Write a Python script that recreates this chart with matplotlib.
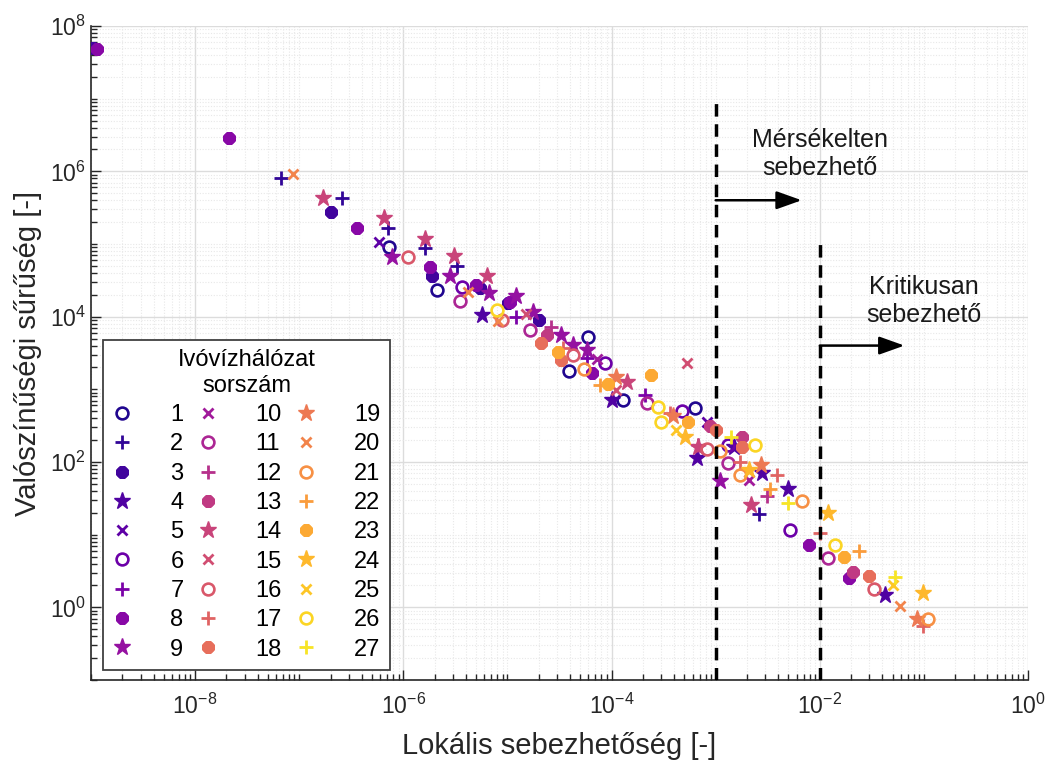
import matplotlib
matplotlib.use("Agg")
import matplotlib.pyplot as plt
import numpy as np
from matplotlib.ticker import FixedLocator, NullFormatter

# ---- data: local vulnerability (x) and probability density (y) per network ----
network_labels = ["1", "2", "3", "4", "5", "6", "7", "8", "9",
                  "10", "11", "12", "13", "14", "15", "16", "17", "18",
                  "19", "20", "21", "22", "23", "24", "25", "26", "27"]

vulnerability = [
    [7.3e-7, 2.1e-6, 6.0e-5, 3.9e-5, 1.3e-4, 6.3e-4],                       # 1
    [6.7e-8, 2.6e-7, 7.2e-7, 1.6e-6, 3.3e-6, 2.6e-3],                       # 2
    [1.04e-9, 2.0e-7, 1.9e-6, 5.5e-6, 2.0e-5, 1.01e-5],                     # 3
    [5.7e-6, 1.0e-4, 6.6e-4, 1.5e-3, 2.8e-3, 4.9e-3, 4.2e-2],               # 4
    [5.8e-7, 8.2e-4],                                                       # 5
    [3.7e-6, 8.7e-5, 4.7e-4, 1.3e-3, 5.2e-3],                               # 6
    [1.2e-5, 5.8e-5, 2.1e-4],                                               # 7
    [1.14e-9, 2.1e-8, 3.6e-7, 1.8e-6, 5.0e-6, 1.06e-5, 6.5e-5, 7.8e-3, 1.9e-2],  # 8
    [7.7e-7, 2.8e-6, 6.6e-6, 1.2e-5, 3.3e-5, 4.3e-5, 1.1e-3, 1.77e-5, 5.8e-5],   # 9
    [7.2e-5, 2.1e-3],                                                       # 10
    [3.5e-6, 1.65e-5, 2.2e-4, 1.3e-3, 1.2e-2],                              # 11
    [2.6e-5, 6.8e-4, 3.1e-3],                                               # 12
    [2.4e-5, 8.8e-4, 2.1e-2, 1.78e-3],                                      # 13
    [1.7e-7, 6.5e-7, 1.6e-6, 3.1e-6, 6.3e-6, 2.2e-3, 1.41e-4, 6.8e-4],      # 14
    [1.5e-5, 1.1e-4, 5.3e-4],                                               # 15
    [1.1e-6, 8.8e-6, 4.3e-5, 8.2e-4, 3.3e-2],                               # 16
    [3.4e-5, 1.7e-3, 3.9e-3, 1.0e-2, 9.9e-2, 3.65e-4],                      # 17
    [2.1e-5, 1.0e-3, 1.8e-3, 3.0e-2, 3.3e-5],                               # 18
    [1.1e-4, 2.7e-3, 8.6e-2, 3.9e-4],                                       # 19
    [8.7e-8, 4.2e-6, 8.2e-6, 5.9e-2],                                       # 20
    [5.4e-5, 1.1e-3, 1.7e-3, 6.7e-3, 0.11],                                 # 21
    [7.8e-5, 3.3e-3, 2.4e-2],                                               # 22
    [9.3e-5, 2.4e-4, 5.4e-4, 1.7e-2, 3.08e-5],                              # 23
    [5.1e-4, 2.1e-3, 1.2e-2, 9.8e-2],                                       # 24
    [4.2e-4, 5.0e-2],                                                       # 25
    [7.9e-6, 3.0e-4, 2.4e-3, 1.4e-2, 2.8e-4],                               # 26
    [1.4e-3, 4.9e-3, 5.3e-2],                                               # 27
]

density = [
    [9.0e4, 2.3e4, 5.3e3, 1.8e3, 7.2e2, 5.6e2],                             # 1
    [8.0e5, 4.3e5, 1.65e5, 8.8e4, 5.0e4, 19],                               # 2
    [5.0e7, 2.8e5, 3.6e4, 2.5e4, 9.0e3, 1.55e4],                            # 3
    [1.06e4, 7.2e2, 1.14e2, 1.6e2, 70, 42, 1.5],                            # 4
    [1.05e5, 3.5e2],                                                        # 5
    [2.6e4, 2.3e3, 5.0e2, 1.7e2, 11.7],                                     # 6
    [1.0e4, 2.7e3, 8.4e2],                                                  # 7
    [4.8e7, 2.9e6, 1.65e5, 4.8e4, 2.7e4, 1.6e4, 1.7e3, 7.3, 2.5],           # 8
    [6.6e4, 3.6e4, 2.1e4, 1.9e4, 5.6e3, 4.1e3, 54, 1.17e4, 3.5e3],          # 9
    [2.6e3, 57],                                                            # 10
    [1.66e4, 6.6e3, 6.5e2, 98, 4.8],                                        # 11
    [7.3e3, 1.7e2, 34],                                                     # 12
    [5.6e3, 3.1e2, 3.1, 2.24e2],                                            # 13
    [4.35e5, 2.3e5, 1.17e5, 6.9e4, 3.6e4, 26, 1.27e3, 1.63e2],              # 14
    [1.1e4, 9.9e2, 2.3e3],                                                  # 15
    [6.6e4, 9.0e3, 3.0e3, 1.5e2, 1.8],                                      # 16
    [3.7e3, 1.0e2, 67, 10.7, 0.56, 4.75e2],                                 # 17
    [4.3e3, 2.8e2, 1.6e2, 2.7, 2.5e3],                                      # 18
    [1.5e3, 92, 0.69, 4.3e2],                                               # 19
    [9.1e5, 2.2e4, 8.6e3, 1.05],                                            # 20
    [1.9e3, 1.4e2, 67, 29, 0.69],                                           # 21
    [1.15e3, 42, 5.9],                                                      # 22
    [1.2e3, 1.6e3, 3.6e2, 5.0, 3.3e3],                                      # 23
    [2.2e2, 78, 20, 1.6],                                                   # 24
    [2.8e2, 2.05],                                                          # 25
    [1.24e4, 3.6e2, 1.7e2, 7.3, 5.8e2],                                     # 26
    [2.2e2, 27, 2.6],                                                       # 27
]

x_tick_values = [1e-8, 1e-6, 1e-4, 1e-2, 1e0]
x_tick_labels = [r"$10^{-8}$", r"$10^{-6}$", r"$10^{-4}$", r"$10^{-2}$", r"$10^{0}$"]
y_tick_values = [1e0, 1e2, 1e4, 1e6, 1e8]
y_tick_labels = [r"$10^{0}$", r"$10^{2}$", r"$10^{4}$", r"$10^{6}$", r"$10^{8}$"]

# vulnerability thresholds
moderate_limit = 1e-3
critical_limit = 1e-2

# ---- styling ----
plt.rcParams["font.family"] = ["Liberation Sans", "DejaVu Sans"]
plt.rcParams["mathtext.fontset"] = "custom"
plt.rcParams["mathtext.rm"] = "Liberation Sans"
plt.rcParams["mathtext.it"] = "Liberation Sans"
plt.rcParams["mathtext.default"] = "regular"

colors = plt.cm.plasma(np.linspace(0.03, 0.95, len(network_labels)))
marker_cycle = ["o", "+", (8, 2, 0), "*", "x"]

fig = plt.figure(figsize=(10.51, 7.67), dpi=100)
ax = fig.add_axes([91 / 1051, 1 - 680 / 767, (1028 - 91) / 1051, (680 - 26) / 767])
ax.set_xscale("log")
ax.set_yscale("log")
ax.set_xlim(1e-9, 1e0)
ax.set_ylim(1e-1, 1e8)

handles = []
for i, (xs, ys) in enumerate(zip(vulnerability, density)):
    m = marker_cycle[i % len(marker_cycle)]
    c = colors[i]
    if m == "o":
        kw = dict(marker="o", ms=8.5, mfc="none", mec=c, mew=1.9)
    elif m == "*":
        kw = dict(marker="*", ms=12.5, mfc=c, mec=c, mew=1.0)
    elif m == "+":
        kw = dict(marker="+", ms=9.5, mec=c, mew=2.0)
    elif m == "x":
        kw = dict(marker="x", ms=7.0, mec=c, mew=2.0)
    else:
        kw = dict(marker=m, ms=9.0, mfc=c, mec=c, mew=3.4)
    h, = ax.plot(xs, ys, linestyle="none", label=network_labels[i], zorder=3, **kw)
    handles.append(h)

# thresholds with arrows
ax.plot([moderate_limit, moderate_limit], [1e-1, 1e7], color="black",
        lw=2.5, dashes=(3.6, 2.2), zorder=4)
ax.plot([critical_limit, critical_limit], [1e-1, 1e5], color="black",
        lw=2.5, dashes=(3.6, 2.2), zorder=4)
ax.annotate("", xy=(6.7e-3, 4.0e5), xytext=(moderate_limit, 4.0e5),
            arrowprops=dict(arrowstyle="-|>,head_length=0.7,head_width=0.25",
                            color="black", lw=1.8, mutation_scale=22,
                            shrinkA=0, shrinkB=0), zorder=5)
ax.annotate("", xy=(6.5e-2, 4.0e3), xytext=(critical_limit, 4.0e3),
            arrowprops=dict(arrowstyle="-|>,head_length=0.7,head_width=0.25",
                            color="black", lw=1.8, mutation_scale=22,
                            shrinkA=0, shrinkB=0), zorder=5)
ax.text(1.0e-2, 1.74e6, "Mérsékelten\nsebezhető", ha="center", va="center",
        fontsize=18, linespacing=1.2, multialignment="center", color="#1a1a1a")
ax.text(1.0e-1, 1.65e4, "Kritikusan\nsebezhető", ha="center", va="center",
        fontsize=18, linespacing=1.2, multialignment="center", color="#1a1a1a")

# axes, ticks and grid
ax.xaxis.set_major_locator(FixedLocator(x_tick_values))
ax.xaxis.set_ticklabels(x_tick_labels)
ax.yaxis.set_major_locator(FixedLocator(y_tick_values))
ax.yaxis.set_ticklabels(y_tick_labels)
x_minor = [m * 10.0 ** e for e in range(-9, 0) for m in range(1, 10)]
y_minor = [m * 10.0 ** e for e in range(-1, 8) for m in range(1, 10)]
ax.xaxis.set_minor_locator(FixedLocator(x_minor))
ax.yaxis.set_minor_locator(FixedLocator(y_minor))
ax.xaxis.set_minor_formatter(NullFormatter())
ax.yaxis.set_minor_formatter(NullFormatter())
ax.tick_params(which="both", direction="in", labelsize=16.5, width=1.0,
               color="#262626", labelcolor="#262626")
ax.tick_params(which="major", length=7)
ax.tick_params(which="minor", length=4)
ax.tick_params(axis="x", pad=10)
ax.grid(True, which="major", color="#dcdcdc", lw=1.0, zorder=0)
ax.grid(True, which="minor", color="#e8e8e8", lw=0.8, linestyle=(0, (1, 1.5)), zorder=0)
ax.set_axisbelow(True)
for side in ("top", "right"):
    ax.spines[side].set_visible(False)
for side in ("left", "bottom"):
    ax.spines[side].set_color("#262626")
    ax.spines[side].set_linewidth(1.2)

ax.set_xlabel("Lokális sebezhetőség [-]", fontsize=21, color="#262626", labelpad=9)
ax.set_ylabel("Valószínűségi sűrűség [-]", fontsize=21, color="#262626", labelpad=6)

leg = ax.legend(handles=handles, ncol=3, loc="upper left",
                bbox_to_anchor=(103 / 1051, 1 - 340 / 767), bbox_transform=fig.transFigure,
                borderaxespad=0, fontsize=17, title="Ivóvízhálózat\nsorszám",
                title_fontsize=17, handlelength=0.85, handletextpad=1.6,
                columnspacing=0.6, labelspacing=0.31, borderpad=0.4,
                frameon=True, fancybox=False, framealpha=1, edgecolor="#404040")
leg.get_frame().set_linewidth(1.3)
leg.get_title().set_multialignment("center")
leg.set_zorder(10)

fig.savefig("out.png", dpi=100)
